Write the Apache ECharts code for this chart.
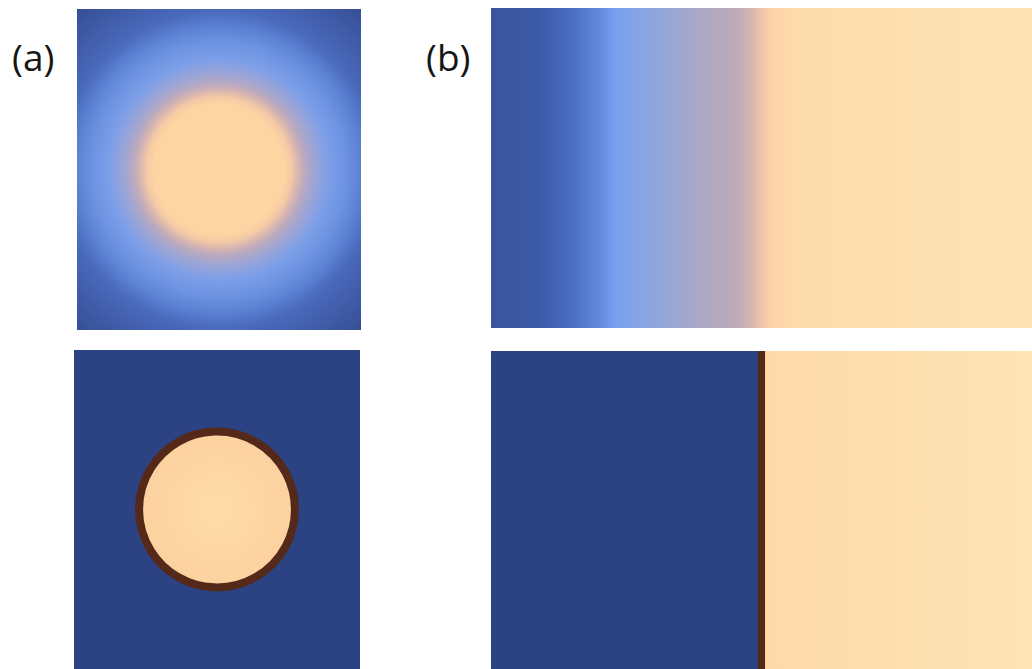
<!DOCTYPE html>
<html>
<head>
<meta charset="utf-8">
<title>Diffuse vs sharp interface</title>
<script src="https://cdn.jsdelivr.net/npm/echarts@6/dist/echarts.min.js"></script>
<style>
  html, body { margin: 0; padding: 0; background: #ffffff; }
  #chart { width: 1032px; height: 669px; }
</style>
</head>
<body>
<div id="chart"></div>
<script>
// ---- Panel (a): circular inclusion (lengths in units of the half-width) ----
const aRangeX = [-1, 1];
const aRangeY = [-1.12, 1.12];
const inclusionCentre = [0, 0];
const inclusionRadius = 0.545;     // mid-line of the interface ring
const interfaceWidth = 0.056;      // thickness of the sharp interface
// diffuse field, radial profile: [distance from centre, colour]
const radialDistance = [0, 0.46, 0.51, 0.55, 0.60, 0.67, 0.77, 0.88, 1.00, 1.12, 1.50];
const radialColour = ['#fed6a2', '#fdd4a2', '#f4caa6', '#dcb8ae', '#bcaabe', '#9ea5d4',
                      '#7e9fe8', '#6e94e2', '#5c82d4', '#4a69bb', '#364f96'];

// ---- Panel (b): planar interface ----
const bRangeX = [0, 2];
const bRangeY = [0, 1.18];
const interfacePos = 1.0;
// diffuse field, profile across the interface: [position, colour]
const linearPosition = [0, 0.18, 0.30, 0.40, 0.46, 0.53, 0.64, 0.78, 0.90, 0.96, 1.00, 1.04, 1.12, 2.0];
const linearColour = ['#3a559e', '#3c5aa8', '#4b6dc2', '#6089dc', '#78a0ef', '#82a3e8',
                      '#94a7d8', '#aca9c4', '#bcaab8', '#d4b4b0', '#eec4a8', '#fcd4a8', '#fddbab', '#fee4b5'];

// sharp-interface phases
const matrixColour = '#2c4383';
const interfaceColour = '#54291a';
const inclusionColour = ['#fedca8', '#fcd19f'];
const slabColour = ['#fdd9a8', '#fee4b6'];

const panelLabels = ['(a)', '(b)'];

function stops(pos, col, scale) {
  return pos.map((p, i) => ({ offset: Math.min(1, p / scale), color: col[i] }));
}

const chart = echarts.init(document.getElementById('chart'), null, { renderer: 'svg' });

const grids = [
  { left: 77,  top: 9,   width: 284, height: 321 },
  { left: 74,  top: 350, width: 286, height: 321 },
  { left: 491, top: 8,   width: 544, height: 320 },
  { left: 491, top: 351, width: 544, height: 320 }
];
const ranges = [[aRangeX, aRangeY], [aRangeX, aRangeY], [bRangeX, bRangeY], [bRangeX, bRangeY]];

const xAxes = ranges.map((r, i) => ({
  type: 'value', gridIndex: i, min: r[0][0], max: r[0][1], show: false
}));
const yAxes = ranges.map((r, i) => ({
  type: 'value', gridIndex: i, min: r[1][0], max: r[1][1], show: false
}));

function panelRect(api, rx, ry) {
  const p0 = api.coord([rx[0], ry[1]]);
  const p1 = api.coord([rx[1], ry[0]]);
  return { x: p0[0], y: p0[1], width: p1[0] - p0[0], height: p1[1] - p0[1] };
}

// (a) top: diffuse circular field
function renderDiffuseCircle(params, api) {
  const rect = panelRect(api, aRangeX, aRangeY);
  const c = api.coord(inclusionCentre);
  const rMax = radialDistance[radialDistance.length - 1];
  const R = api.size([rMax, 0])[0];
  return {
    type: 'rect', shape: rect, silent: true,
    style: {
      fill: {
        type: 'radial', x: c[0], y: c[1], r: R, global: true,
        colorStops: stops(radialDistance, radialColour, rMax)
      }
    }
  };
}

// (a) bottom: sharp circular inclusion
function renderSharpCircle(params, api) {
  const rect = panelRect(api, aRangeX, aRangeY);
  const c = api.coord(inclusionCentre);
  const r = api.size([inclusionRadius, 0])[0];
  const w = api.size([interfaceWidth, 0])[0];
  return {
    type: 'group',
    children: [
      { type: 'rect', shape: rect, silent: true, style: { fill: matrixColour } },
      {
        type: 'circle', shape: { cx: c[0], cy: c[1], r: r }, silent: true,
        style: {
          fill: {
            type: 'radial', x: c[0], y: c[1], r: r, global: true,
            colorStops: [{ offset: 0, color: inclusionColour[0] }, { offset: 1, color: inclusionColour[1] }]
          },
          stroke: interfaceColour, lineWidth: w
        }
      }
    ]
  };
}

// (b) top: diffuse planar field
function renderDiffusePlane(params, api) {
  const rect = panelRect(api, bRangeX, bRangeY);
  const x0 = api.coord([linearPosition[0], 0])[0];
  const x1 = api.coord([linearPosition[linearPosition.length - 1], 0])[0];
  return {
    type: 'rect', shape: rect, silent: true,
    style: {
      fill: {
        type: 'linear', x: x0, y: 0, x2: x1, y2: 0, global: true,
        colorStops: stops(linearPosition, linearColour, linearPosition[linearPosition.length - 1])
      }
    }
  };
}

// (b) bottom: sharp planar interface
function renderSharpPlane(params, api) {
  const left = panelRect(api, [bRangeX[0], interfacePos], bRangeY);
  const right = panelRect(api, [interfacePos, bRangeX[1]], bRangeY);
  const w = api.size([interfaceWidth * 0.47, 0])[0];
  const xi = api.coord([interfacePos, 0])[0];
  return {
    type: 'group',
    children: [
      { type: 'rect', shape: left, silent: true, style: { fill: matrixColour } },
      {
        type: 'rect', shape: right, silent: true,
        style: {
          fill: {
            type: 'linear', x: right.x, y: 0, x2: right.x + right.width, y2: 0, global: true,
            colorStops: [{ offset: 0, color: slabColour[0] }, { offset: 1, color: slabColour[1] }]
          }
        }
      },
      {
        type: 'rect', silent: true,
        shape: { x: xi - w / 2, y: left.y, width: w, height: left.height },
        style: { fill: interfaceColour }
      }
    ]
  };
}

const renderers = [renderDiffuseCircle, renderSharpCircle, renderDiffusePlane, renderSharpPlane];

chart.setOption({
  animation: false,
  backgroundColor: '#ffffff',
  grid: grids,
  xAxis: xAxes,
  yAxis: yAxes,
  graphic: [
    {
      type: 'text', left: 12, top: 38, silent: true,
      style: { text: panelLabels[0], font: '500 37px "Open Sans", sans-serif', fill: '#161616' }
    },
    {
      type: 'text', left: 426, top: 38, silent: true,
      style: { text: panelLabels[1], font: '500 37px "Open Sans", sans-serif', fill: '#161616' }
    }
  ],
  series: renderers.map((fn, i) => ({
    type: 'custom',
    xAxisIndex: i,
    yAxisIndex: i,
    clip: true,
    silent: true,
    data: [[0, 0]],
    renderItem: fn
  }))
});
</script>
</body>
</html>
